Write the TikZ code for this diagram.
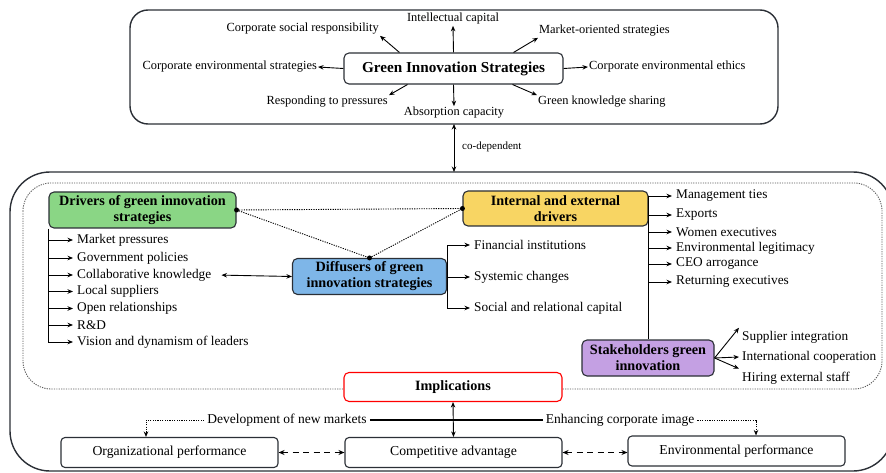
\documentclass[tikz,border=0pt]{standalone}
\usepackage{fontspec}
\setmainfont{Liberation Serif}
\usetikzlibrary{arrows.meta,calc}
\definecolor{gfill}{HTML}{8AD685}
\definecolor{yfill}{HTML}{F8D563}
\definecolor{bfill}{HTML}{7EB6E8}
\definecolor{pfill}{HTML}{C4A0E3}
\definecolor{edge}{HTML}{2B2F36}
\tikzset{
 ar/.style={-{Stealth[length=5.5pt,width=4.5pt]}, line width=0.9pt},
 dar/.style={{Stealth[length=5.5pt,width=4.5pt]}-{Stealth[length=5.5pt,width=4.5pt]}, line width=0.9pt},
 lblT/.style={font=\fontsize{12.4}{14}\selectfont, inner sep=1pt},
 lbl/.style={font=\fontsize{13.3}{15}\selectfont, inner sep=4pt, anchor=west},
 cat/.style={draw=edge, line width=1.1pt, rounded corners=5pt, font=\fontsize{14.2}{16}\bfseries\selectfont, align=center, inner sep=0pt},
 bbox/.style={draw=edge, line width=1.1pt, rounded corners=4pt, font=\fontsize{13.7}{15}\selectfont, inner sep=0pt, minimum width=217pt, minimum height=30pt},
 dotl/.style={line width=0.9pt, dash pattern=on 1.2pt off 1.2pt},
 dotb/.style={circle, fill, inner sep=0pt, minimum size=5pt},
 outer/.style={line width=1.4pt, draw=edge},
 dashar/.style={{Stealth[length=6pt,width=5pt]}-{Stealth[length=6pt,width=5pt]}, line width=1.8pt, dash pattern=on 6pt off 4.5pt},
}
\begin{document}
\begin{tikzpicture}[x=1pt,y=-1pt]
\useasboundingbox (0,0) rectangle (886,473);
% ---------- top container ----------
\draw[outer, rounded corners=18pt] (130,10) rectangle (778,124);
\coordinate (topS) at (454,124);
\node[cat, font=\fontsize{15.2}{17}\bfseries\selectfont, minimum width=219pt, minimum height=31pt] (gis) at (453.5,68.5) {Green Innovation Strategies};
\node[lblT, anchor=east] (csr) at (380,29) {Corporate social responsibility};
\node[lblT] (ic) at (453,19) {Intellectual capital};
\node[lblT, anchor=west] (mos) at (538,31) {Market-oriented strategies};
\node[lblT, anchor=east] (ces) at (318,67) {Corporate environmental strategies};
\node[lblT, anchor=west] (cee) at (588,67) {Corporate environmental ethics};
\node[lblT, anchor=east] (rtp) at (389,102) {Responding to pressures};
\node[lblT] (ac) at (454,113) {Absorption capacity};
\node[lblT, anchor=west] (gks) at (537,102) {Green knowledge sharing};
\draw[ar] ([xshift=56pt]gis.north west) -- (csr.south east);
\draw[ar] (gis.north) -- (ic.south);
\draw[ar] ([xshift=-50pt]gis.north east) -- (mos.south west);
\draw[ar] (gis.west) -- (ces.east);
\draw[ar] (gis.east) -- (cee.west);
\draw[ar] ([xshift=64pt]gis.south west) -- (rtp.north east);
\draw[ar] (gis.south) -- (ac.north);
\draw[ar] ([xshift=-51pt]gis.south east) -- (gks.north west);
% ---------- bottom container ----------
\draw[outer, rounded corners=40pt] (10,172) rectangle (893,471);
\coordinate (botN) at (454,172);
\draw[dar] (topS) -- (botN);
\node[lbl, font=\fontsize{11}{12}\selectfont, inner sep=1pt] (cod) at (461,147) {co-dependent};
\draw[dotl, draw=black!65, rounded corners=28pt] (23,183) rectangle (882,389);
% category boxes
\node[cat, fill=gfill, minimum width=187pt, minimum height=36pt] (drv) at (142.5,210) {Drivers of green innovation\\strategies};
\node[cat, fill=yfill, minimum width=185pt, minimum height=35pt] (ied) at (555.5,208.5) {Internal and external\\drivers};
\node[cat, fill=bfill, minimum width=154pt, minimum height=36pt] (dif) at (369.5,276.5) {Diffusers of green\\innovation strategies};
\node[cat, fill=pfill, minimum width=132pt, minimum height=36pt] (stk) at (648,358) {Stakeholders green\\innovation};
% dotted links
\draw[dotl] (drv.east) -- (ied.west);
\draw[dotl] (drv.east) -- (dif.north);
\draw[dotl] (dif.north) -- (ied.west);
\node[dotb] (d1) at (drv.east) {};
\node[dotb] (d2) at (ied.west) {};
\node[dotb] (d3) at (dif.north) {};
% drivers list
\node[lbl] (m1) at (73,240) {Market pressures};
\node[lbl] (m2) at (73,258) {Government policies};
\node[lbl] (m3) at (73,275) {Collaborative knowledge};
\node[lbl] (m4) at (73,291.5) {Local suppliers};
\node[lbl] (m5) at (73,308.5) {Open relationships};
\node[lbl] (m6) at (73,325) {R\&D};
\node[lbl] (m7) at (73,342) {Vision and dynamism of leaders};
\draw[ar] (drv.south west) -- (drv.south west |- m7.west) -- (m7.west);
\foreach \m in {m1,m2,m3,m4,m5,m6}{\draw[ar] (drv.south west |- \m.west) -- (\m.west);}
\draw[dar, shorten <=6pt] (m3.east) -- (dif.west);
% diffusers list
\node[lbl] (f1) at (470,245) {Financial institutions};
\node[lbl] (f2) at (470,277) {Systemic changes};
\node[lbl] (f3) at (470,308) {Social and relational capital};
\draw[line width=0.9pt] (dif.east |- f1.west) -- (dif.east |- f3.west);
\foreach \f in {f1,f2,f3}{\draw[ar] (dif.east |- \f.west) -- (\f.west);}
% internal and external list
\node[lbl] (e1) at (672,196) {Management ties};
\node[lbl] (e2) at (672,215) {Exports};
\node[lbl] (e3) at (672,232) {Women executives};
\node[lbl] (e4) at (672,248) {Environmental legitimacy};
\node[lbl] (e5) at (672,264) {CEO arrogance};
\node[lbl] (e6) at (672,282) {Returning executives};
\draw[line width=0.9pt] (ied.east |- e1.west) -- (ied.east |- stk.north);
\foreach \e in {e1,e2,e3,e4,e5,e6}{\draw[ar] (ied.east |- \e.west) -- (\e.west);}
% stakeholders list
\node[lbl, inner sep=3pt] (s1) at (739,337) {Supplier integration};
\node[lbl, inner sep=3pt] (s2) at (739,357) {International cooperation};
\node[lbl, inner sep=3pt] (s3) at (739,378) {Hiring external staff};
\draw[ar] (stk.east) -- (s1.north west);
\draw[ar] (stk.east) -- (s2.west);
\draw[ar] (stk.east) -- (s3.north west);
% implications
\node[cat, draw=red, fill=white, line width=1.1pt, minimum width=218pt, minimum height=29pt] (imp) at (453,387) {Implications};
\node[bbox] (org) at (169.5,452.5) {Organizational performance};
\node[bbox] (cmp) at (453.5,452.5) {Competitive advantage};
\node[bbox] (env) at (736.5,451) {Environmental performance};
\draw[dar] (imp.south) -- (cmp.north);
\node[lbl, font=\fontsize{13.5}{15}\selectfont, anchor=center, inner sep=3pt] (dnm) at (287,420) {Development of new markets};
\node[lbl, font=\fontsize{13.5}{15}\selectfont, anchor=center, inner sep=3pt] (eci) at (620,420) {Enhancing corporate image};
\draw[line width=1.1pt] (dnm.east) -- (eci.west);
\draw[dotl, -{Stealth[length=5.5pt,width=4.5pt]}] (dnm.west) -| ([xshift=-23.5pt]org.north);
\draw[dotl, -{Stealth[length=5.5pt,width=4.5pt]}] (eci.east) -| ([xshift=19.5pt]env.north);
\draw[dashar] (org.east) -- (cmp.west);
\draw[dashar] (cmp.east) -- (cmp.east -| env.west);
\end{tikzpicture}
\end{document}
